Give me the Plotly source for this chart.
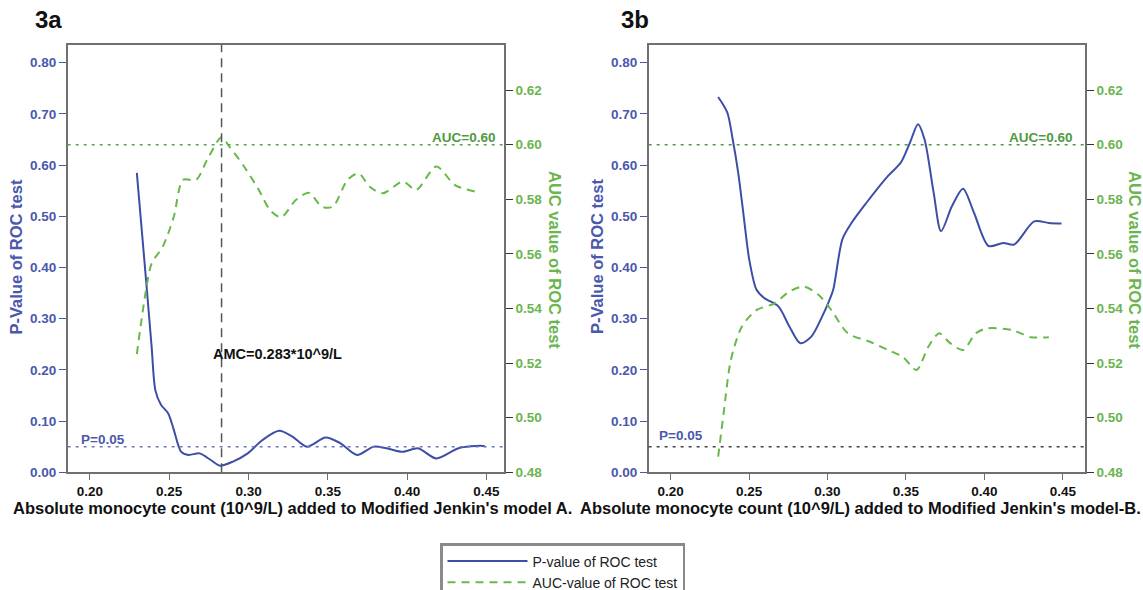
import plotly.graph_objects as go

# ---------------- data ----------------
# Panel 3a
xa_p = [0.2296, 0.2354, 0.2389, 0.2413, 0.2448, 0.2494, 0.2529, 0.2576, 0.2622, 0.2692,
        0.2762, 0.2820, 0.2902, 0.2995, 0.3088, 0.3193, 0.3275, 0.3368, 0.3485, 0.3578,
        0.3683, 0.3788, 0.3869, 0.3974, 0.4068, 0.4184, 0.4324, 0.4464, 0.4490]
pa = [0.585, 0.376, 0.246, 0.160, 0.132, 0.115, 0.083, 0.040, 0.034, 0.037,
      0.024, 0.013, 0.021, 0.037, 0.063, 0.081, 0.070, 0.050, 0.068, 0.057,
      0.034, 0.050, 0.047, 0.040, 0.047, 0.027, 0.047, 0.052, 0.051]
xa_a = [0.2296, 0.2354, 0.2390, 0.2459, 0.2529, 0.2587, 0.2669, 0.2739, 0.2830, 0.2879,
        0.2972, 0.3065, 0.3135, 0.3205, 0.3298, 0.3380, 0.3462, 0.3531, 0.3624, 0.3694,
        0.3764, 0.3846, 0.3974, 0.4056, 0.4184, 0.4301, 0.4429]
aa = [0.5233, 0.5468, 0.5566, 0.5626, 0.5736, 0.5871, 0.5871, 0.5944, 0.6027, 0.5993,
      0.5920, 0.5834, 0.5761, 0.5734, 0.5797, 0.5824, 0.5773, 0.5773, 0.5871, 0.5895,
      0.5846, 0.5822, 0.5865, 0.5834, 0.5920, 0.5852, 0.5828]

# Panel 3b
xb_p = [0.2303, 0.2361, 0.2396, 0.2431, 0.2466, 0.2501, 0.2547, 0.2594, 0.2687, 0.2757,
        0.2827, 0.2897, 0.2967, 0.3013, 0.3037, 0.3095, 0.3153, 0.3247, 0.3386, 0.3468,
        0.3526, 0.3577, 0.3619, 0.3677, 0.3724, 0.3794, 0.3864, 0.3934, 0.4027, 0.4120,
        0.4190, 0.4318, 0.4411, 0.4492]
pb = [0.733, 0.703, 0.650, 0.585, 0.500, 0.416, 0.357, 0.341, 0.324, 0.285,
      0.252, 0.265, 0.305, 0.337, 0.357, 0.455, 0.487, 0.526, 0.579, 0.605,
      0.644, 0.680, 0.650, 0.546, 0.471, 0.520, 0.554, 0.507, 0.442, 0.448,
      0.445, 0.490, 0.487, 0.486]
xb_a = [0.2303, 0.2338, 0.2384, 0.2454, 0.2547, 0.2664, 0.2757, 0.2850, 0.2944, 0.3025,
        0.3130, 0.3270, 0.3386, 0.3480, 0.3568, 0.3643, 0.3712, 0.3782, 0.3864, 0.3945,
        0.4015, 0.4178, 0.4295, 0.4411]
ab = [0.4857, 0.5016, 0.5211, 0.5333, 0.5394, 0.5419, 0.5462, 0.5480, 0.5449, 0.5394,
      0.5309, 0.5278, 0.5248, 0.5223, 0.5175, 0.5260, 0.5309, 0.5273, 0.5248, 0.5309,
      0.5327, 0.5321, 0.5295, 0.5295]

x_ticks = [0.20, 0.25, 0.30, 0.35, 0.40, 0.45]
p_ticks = [0.00, 0.10, 0.20, 0.30, 0.40, 0.50, 0.60, 0.70, 0.80]
auc_ticks = [0.48, 0.50, 0.52, 0.54, 0.56, 0.58, 0.60, 0.62]
p_ref = 0.05
auc_ref = 0.60
amc_cut = 0.283

# ---------------- style ----------------
BLUE = "#3d4ea6"
BLUE_T = "#4a58ad"
GREEN = "#66b94a"
GREEN_T = "#6ab54e"
GREEN_D = "#4e9a3e"
AXC = "#707070"
FONT = "Liberation Sans"

fig = go.Figure()

fig.add_trace(go.Scatter(x=xa_p, y=pa, mode="lines", line=dict(color=BLUE, width=2, shape="spline", smoothing=0.8),
                         name="P-value of ROC test", xaxis="x", yaxis="y"))
fig.add_trace(go.Scatter(x=xa_a, y=aa, mode="lines", line=dict(color=GREEN, width=2, dash="8px,6px", shape="spline", smoothing=0.8),
                         name="AUC-value of ROC test", xaxis="x", yaxis="y2"))
fig.add_trace(go.Scatter(x=xb_p, y=pb, mode="lines", line=dict(color=BLUE, width=2, shape="spline", smoothing=0.8),
                         showlegend=False, xaxis="x2", yaxis="y3"))
fig.add_trace(go.Scatter(x=xb_a, y=ab, mode="lines", line=dict(color=GREEN, width=2, dash="8px,6px", shape="spline", smoothing=0.8),
                         showlegend=False, xaxis="x2", yaxis="y4"))

xdomA = [0.0592, 0.4409]
xdomB = [0.5675, 0.9493]
ydom = [1 - 472.3 / 590, 1 - 45 / 590]
xrngA = [0.186, 0.461]
xrngB = [0.186, 0.4642]
prng = [0, 0.8346]
arng = [0.48, 0.6365]


def xax(dom, rng, anchor):
    return dict(domain=dom, range=rng, anchor=anchor, tickvals=x_ticks, ticktext=[f"{v:.2f}" for v in x_ticks],
                showline=True, linecolor=AXC, linewidth=1.5, mirror=True, ticks="outside", ticklen=6,
                tickcolor=AXC, tickfont=dict(family=FONT, size=13.5, color="#111", weight="bold"),
                showgrid=False, zeroline=False)


def pax(rng, anchor):
    return dict(domain=ydom, range=rng, anchor=anchor, tickvals=p_ticks, ticktext=[f"{v:.2f}" for v in p_ticks],
                showline=True, linecolor=AXC, linewidth=1.5, ticks="outside", ticklen=7,
                tickcolor=BLUE_T, tickfont=dict(family=FONT, size=13.5, color=BLUE_T, weight="bold"),
                showgrid=False, zeroline=False)


def aax(rng, anchor, over):
    return dict(range=rng, anchor=anchor, overlaying=over, side="right", tickvals=auc_ticks,
                ticktext=[f"{v:.2f}" for v in auc_ticks],
                showline=True, linecolor=AXC, linewidth=1.5, ticks="outside", ticklen=7,
                tickcolor="#333", tickfont=dict(family=FONT, size=13.5, color=GREEN_T, weight="bold"),
                showgrid=False, zeroline=False)


fig.update_layout(
    width=1143, height=590,
    margin=dict(l=0, r=0, t=0, b=0, autoexpand=False),
    paper_bgcolor="white", plot_bgcolor="white",
    xaxis=xax(xdomA, xrngA, "y"),
    yaxis=pax(prng, "x"),
    yaxis2=aax(arng, "x", "y"),
    xaxis2=xax(xdomB, xrngB, "y3"),
    yaxis3=pax(prng, "x2"),
    yaxis4=aax(arng, "x2", "y3"),
    legend=dict(x=440 / 1143, y=1 - 543 / 590, xanchor="left", yanchor="top",
                bordercolor="#8a8a8a", borderwidth=2.5, bgcolor="white",
                font=dict(family=FONT, size=14, color="#222"), itemwidth=80,
                tracegroupgap=0, entrywidth=240, entrywidthmode="pixels"),
    showlegend=True,
)

shapes = []
# reference lines panel A
shapes.append(dict(type="line", xref="x domain", yref="y", x0=0, x1=1, y0=p_ref, y1=p_ref,
                   line=dict(color="#6f78c0", width=1.5, dash="3px,5px")))
shapes.append(dict(type="line", xref="x domain", yref="y2", x0=0, x1=1, y0=auc_ref, y1=auc_ref,
                   line=dict(color="#5aa84a", width=1.5, dash="3px,5px")))
shapes.append(dict(type="line", xref="x", yref="y domain", x0=amc_cut, x1=amc_cut, y0=0, y1=1,
                   line=dict(color="#555555", width=1.5, dash="9px,6px")))
# reference lines panel B
shapes.append(dict(type="line", xref="x2 domain", yref="y3", x0=0, x1=1, y0=p_ref, y1=p_ref,
                   line=dict(color="#444444", width=1.5, dash="3px,5px")))
shapes.append(dict(type="line", xref="x2 domain", yref="y4", x0=0, x1=1, y0=auc_ref, y1=auc_ref,
                   line=dict(color="#4e9a3e", width=1.5, dash="3px,5px")))
fig.update_layout(shapes=shapes)

ann = []
bold = lambda size, color: dict(family=FONT, size=size, color=color, weight="bold")


def pann(text, px, py, size, color, angle=0):
    return dict(text=text, x=px / 1143, y=1 - py / 590, xref="paper", yref="paper", showarrow=False,
                xanchor="center", yanchor="middle", textangle=angle, font=bold(size, color))


# panel labels
ann.append(pann("3a", 48, 19, 24, "#111"))
ann.append(pann("3b", 635, 19, 24, "#111"))
# reference labels A
ann.append(dict(text="P=0.05", x=0.025, xref="x domain", y=p_ref, yref="y", xanchor="left", yanchor="bottom",
                showarrow=False, font=bold(13.5, "#4a58ad"), yshift=-2))
ann.append(dict(text="AUC=0.60", x=0.985, xref="x domain", y=auc_ref, yref="y2", xanchor="right", yanchor="bottom",
                showarrow=False, font=bold(13.5, GREEN_D), yshift=-2))
ann.append(dict(text="AMC=0.283*10^9/L", x=0.2763, xref="x", y=0.2315, yref="y", xanchor="left", yanchor="middle",
                showarrow=False, font=bold(14.5, "#111")))
# reference labels B
ann.append(dict(text="P=0.05", x=0.02, xref="x2 domain", y=p_ref, yref="y3", xanchor="left", yanchor="bottom",
                showarrow=False, font=bold(13.5, "#4a58ad"), yshift=2))
ann.append(dict(text="AUC=0.60", x=0.975, xref="x2 domain", y=auc_ref, yref="y4", xanchor="right", yanchor="bottom",
                showarrow=False, font=bold(13.5, GREEN_D), yshift=-2))
# axis titles
ann.append(pann("P-Value of ROC test", 15.5, 257, 16.5, BLUE_T, -90))
ann.append(pann("AUC value of ROC test", 555, 260, 16.5, GREEN_T, 90))
ann.append(pann("P-Value of ROC test", 597, 257, 16.5, BLUE_T, -90))
ann.append(pann("AUC value of ROC test", 1135, 260, 16.5, GREEN_T, 90))
ann.append(pann("Absolute monocyte count (10^9/L) added to Modified Jenkin's model A.", 292, 508, 16.5, "#111"))
ann.append(pann("Absolute monocyte count (10^9/L) added to Modified Jenkin's model-B.", 860, 508, 16.5, "#111"))
fig.update_layout(annotations=ann)

fig.write_html("out.html", config={"displayModeBar": False},
               post_script="document.body.style.margin='0px';document.body.style.overflow='hidden';")
